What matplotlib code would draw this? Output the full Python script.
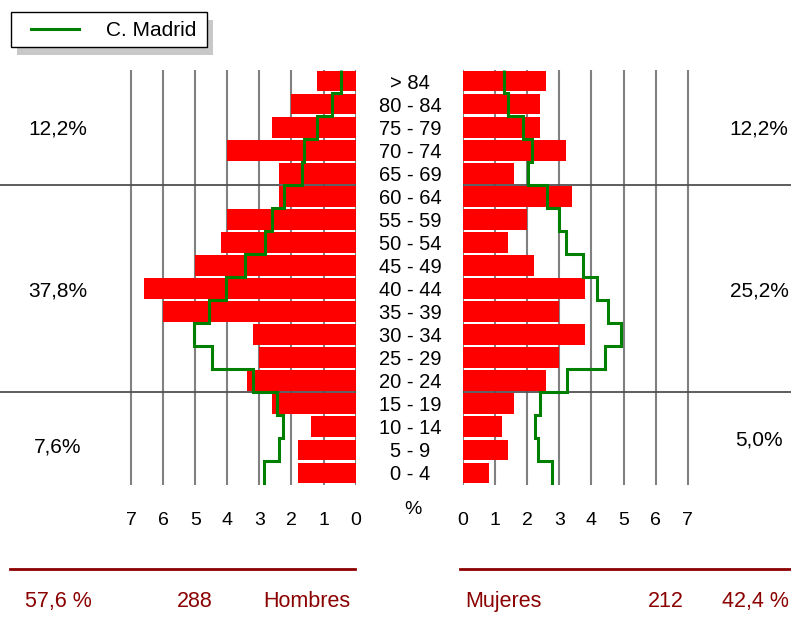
"""Pirámide de población con la referencia de la C. Madrid."""

import matplotlib

matplotlib.use("Agg")
import matplotlib.pyplot as plt
import numpy as np
from matplotlib.lines import Line2D
from matplotlib.patches import Rectangle
from matplotlib.transforms import blended_transform_factory

plt.rcParams["font.family"] = ["Liberation Sans", "DejaVu Sans"]

# Data (percent of total population)
age_groups = [
    "0 - 4", "5 - 9", "10 - 14", "15 - 19", "20 - 24", "25 - 29", "30 - 34",
    "35 - 39", "40 - 44", "45 - 49", "50 - 54", "55 - 59", "60 - 64",
    "65 - 69", "70 - 74", "75 - 79", "80 - 84", "> 84",
]
hombres = [1.8, 1.8, 1.4, 2.6, 3.4, 3.0, 3.2, 6.0, 6.6, 5.0, 4.2, 4.0, 2.4, 2.4, 4.0, 2.6, 2.0, 1.2]
mujeres = [0.8, 1.4, 1.2, 1.6, 2.6, 3.0, 3.8, 3.0, 3.8, 2.2, 1.4, 2.0, 3.4, 1.6, 3.2, 2.4, 2.4, 2.6]
madrid_hombres = [2.86, 2.39, 2.26, 2.45, 3.20, 4.48, 5.04, 4.57, 4.04, 3.45, 2.83, 2.60, 2.23, 1.66, 1.60, 1.20, 0.74, 0.46]
madrid_mujeres = [2.77, 2.34, 2.24, 2.40, 3.24, 4.42, 4.92, 4.52, 4.17, 3.74, 3.21, 2.99, 2.62, 2.02, 2.15, 1.87, 1.40, 1.28]

# broad group shares: (y position, text)
grupos_hombres = [(15, "12,2%"), (8, "37,8%"), (1.2, "7,6%")]
grupos_mujeres = [(15, "12,2%"), (8, "25,2%"), (1.5, "5,0%")]
group_breaks = [3.5, 12.5]

total_hombres, pct_hombres = "288", "57,6 %"
total_mujeres, pct_mujeres = "212", "42,4 %"

ticks = list(range(8))

W, H = 791, 617
RED = "#ff0000"
GREEN = "#008000"
DARKRED = "#8b0000"
GRID = "#808080"


def fx(px):
    return px / W


def fy(py):
    return 1 - py / H


fig = plt.figure(figsize=(W / 100, H / 100), dpi=100)

unit = 32.1  # pixels per percent
top, bottom = 69.5, 484.5
ax_l = fig.add_axes([0, fy(bottom), fx(355.7), (bottom - top) / H])
ax_r = fig.add_axes([fx(463), fy(bottom), 1 - fx(463), (bottom - top) / H])

y = np.arange(len(age_groups))
edges = np.arange(len(age_groups) + 1) - 0.5

ax_l.barh(y, hombres, height=0.9, color=RED, zorder=2)
ax_r.barh(y, mujeres, height=0.9, color=RED, zorder=2)
ax_l.stairs(madrid_hombres, edges, orientation="horizontal", baseline=None,
            color=GREEN, linewidth=2.2, zorder=3)
ax_r.stairs(madrid_mujeres, edges, orientation="horizontal", baseline=None,
            color=GREEN, linewidth=2.2, zorder=3)

ax_l.set_xlim(355.7 / unit, 0)
ax_r.set_xlim(0, (W - 463) / unit)

for ax in (ax_l, ax_r):
    ax.set_ylim(-0.5, len(age_groups) - 0.5)
    ax.set_xticks(ticks)
    ax.set_yticks([])
    ax.tick_params(axis="x", length=0, pad=20, labelsize=14)
    for s in ax.spines.values():
        s.set_visible(False)
    for t in ticks:
        ax.axvline(t, color=GRID, linewidth=1.5, zorder=1)
    for b in group_breaks:
        ax.axhline(b, color="#505050", linewidth=1.3, zorder=1)
    ax.patch.set_visible(False)

# age labels in the middle
trans = blended_transform_factory(fig.transFigure, ax_l.transData)
for yi, lab in zip(y, age_groups):
    fig.text(fx(410), yi, lab, transform=trans, ha="center", va="center_baseline",
             fontsize=14.5)

fig.text(fx(413), fy(510), "%", ha="center", va="center", fontsize=14)

for yi, lab in grupos_hombres:
    fig.text(fx(58), yi, lab, transform=trans, ha="center", va="center_baseline", fontsize=15)
for yi, lab in grupos_mujeres:
    fig.text(fx(759), yi, lab, transform=trans, ha="center", va="center_baseline", fontsize=15)

# legend box with shadow
fig.add_artist(Rectangle((fx(17), fy(55)), fx(196), 35 / H, transform=fig.transFigure,
                         facecolor="#c8c8c8", edgecolor="none"))
fig.add_artist(Rectangle((fx(11), fy(47)), fx(196), 35 / H, transform=fig.transFigure,
                         facecolor="white", edgecolor="black", linewidth=1))
fig.add_artist(Line2D([fx(31), fx(79)], [fy(29), fy(29)], transform=fig.transFigure,
                      color=GREEN, linewidth=2.2))
fig.text(fx(106), fy(29), "C. Madrid", ha="left", va="center_baseline", fontsize=15)

# totals at the bottom
fig.add_artist(Line2D([fx(10), fx(355)], [fy(569), fy(569)], transform=fig.transFigure,
                      color=DARKRED, linewidth=2))
fig.add_artist(Line2D([fx(460), fx(791)], [fy(569), fy(569)], transform=fig.transFigure,
                      color=DARKRED, linewidth=2))
bottom_texts = [
    (25, pct_hombres, "left"), (195, total_hombres, "center"), (350, "Hombres", "right"),
    (465, "Mujeres", "left"), (666, total_mujeres, "center"), (789, pct_mujeres, "right"),
]
for xp, lab, ha in bottom_texts:
    fig.text(fx(xp), fy(599), lab, ha=ha, va="center_baseline", fontsize=15.5, color=DARKRED)

fig.savefig("out.png", dpi=100)
plt.close(fig)
